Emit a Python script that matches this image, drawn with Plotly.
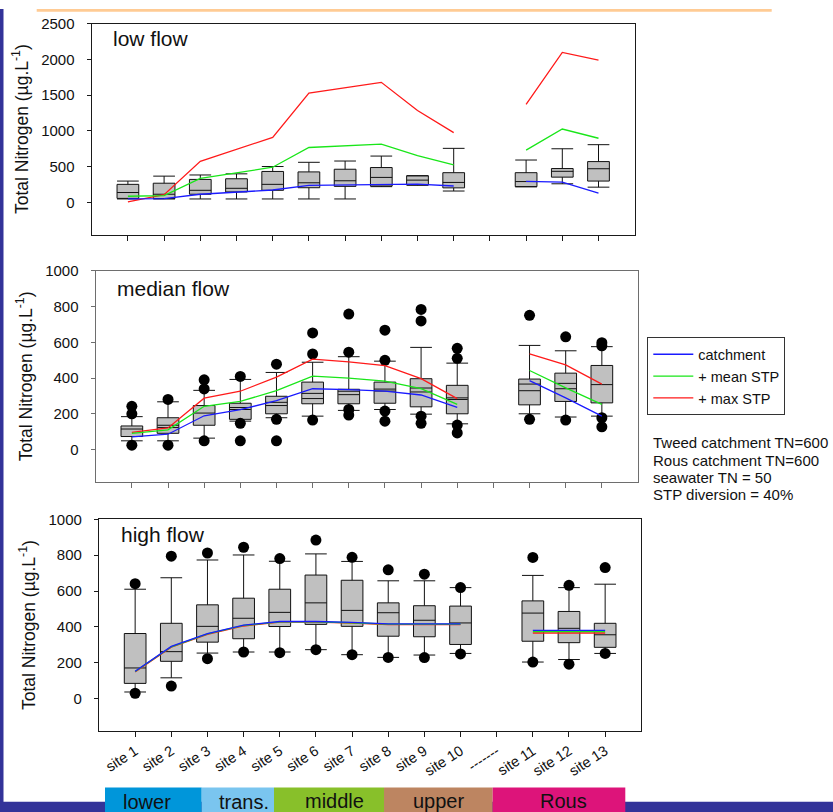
import plotly.graph_objects as go

FONT = "Liberation Sans, Arial, sans-serif"

# ---- categories -------------------------------------------------------------
SITES = ["site 1", "site 2", "site 3", "site 4", "site 5", "site 6", "site 7",
         "site 8", "site 9", "site 10", "site 11", "site 12", "site 13"]
GAP_LABEL = "-------"
AXIS_LABELS = SITES[:10] + [GAP_LABEL] + SITES[10:]

# ---- low flow ---------------------------------------------------------------
low_lo = [50, 50, 50, 50, 50, 50, 50, 222, 242, 161, 220, 262, 215]
low_q1 = [58, 55, 116, 148, 171, 207, 226, 231, 245, 205, 222, 355, 300]
low_med = [140, 116, 171, 199, 254, 276, 304, 351, 313, 281, 293, 436, 472]
low_q3 = [254, 270, 323, 332, 434, 428, 465, 489, 373, 417, 417, 475, 572]
low_hi = [300, 369, 385, 401, 503, 562, 580, 649, 375, 757, 594, 751, 808]
low_catch = [51, 55, 116, 148, 175, 240, 249, 258, 258, 231, 296, 286, 130]
low_mean_stp = [88, 97, 337, 417, 493, 769, 792, 815, 655, 525, 732, 1027, 898]
low_max_stp = [8, 110, 576, 742, 910, 1529, 1602, 1679, 1285, 977, 1370, 2096, 1989]
low_out_site = []
low_out_val = []
low_second = [None] * 13

# ---- median flow ------------------------------------------------------------
med_lo = [50, 50, 65, 160, 179, 188, 220, 225, 199, 145, 201, 183, 188]
med_q1 = [74, 92, 137, 170, 201, 257, 257, 260, 240, 201, 251, 270, 262]
med_med = [116, 137, 205, 236, 265, 315, 327, 339, 345, 290, 367, 371, 364]
med_q3 = [133, 179, 247, 260, 299, 378, 338, 378, 397, 360, 395, 428, 471]
med_hi = [185, 268, 332, 393, 432, 489, 520, 495, 572, 484, 583, 553, 576]
med_second = [None, 124, None, 225, 247, 286, 308, 328, 323, 281, 330, 341, None]
med_catch = [72, 87, 190, 224, 275, 341, 336, 328, 306, 237, 386, 290, 188]
med_mean_stp = [92, 111, 243, 270, 330, 411, 400, 384, 341, 254, 443, 346, 254]
med_max_stp = [97, 122, 288, 327, 406, 506, 491, 470, 397, 286, 536, 474, 367]
med_out_site = [1, 1, 1, 2, 2, 3, 3, 3, 4, 4, 4, 5, 5, 5, 6, 6, 6,
                7, 7, 7, 7, 8, 8, 8, 8, 9, 9, 9, 9, 10, 10, 10, 10,
                11, 11, 12, 12, 13, 13, 13, 13]
med_out_val = [243, 201, 26, 281, 26, 391, 340, 50, 410, 148, 50, 478, 170, 50,
               653, 535, 166, 758, 545, 225, 194, 668, 500, 216, 160,
               784, 720, 188, 148, 567, 511, 138, 94, 751, 170, 631, 166,
               598, 581, 179, 128]

# ---- high flow --------------------------------------------------------------
high_lo = [37, 116, 254, 260, 260, 273, 245, 230, 243, 252, 204, 218, 252]
high_q1 = [85, 208, 315, 334, 402, 414, 403, 348, 345, 302, 320, 312, 286]
high_med = [171, 262, 403, 448, 481, 534, 492, 479, 437, 422, 477, 392, 356]
high_q3 = [363, 420, 523, 560, 610, 689, 660, 534, 518, 516, 545, 486, 420]
high_hi = [610, 674, 773, 801, 766, 807, 765, 657, 657, 619, 687, 619, 638]
high_catch = [153, 291, 363, 410, 430, 430, 425, 417, 417, 417, 381, 381, 381]
high_mean_stp = [151, 289, 361, 408, 428, 428, 423, 415, 415, 415, 374, 374, 374]
high_max_stp = [149, 287, 358, 405, 426, 426, 421, 413, 413, 413, 366, 366, 366]
high_out_site = [1, 1, 2, 2, 3, 3, 4, 4, 5, 5, 6, 6, 7, 7, 8, 8, 9, 9,
                 10, 10, 11, 11, 12, 12, 13, 13]
high_out_val = [641, 30, 794, 70, 812, 223, 844, 260, 781, 256, 884, 273,
                788, 245, 718, 230, 694, 229, 619, 249, 787, 204, 632, 192,
                731, 252]
high_second = [None] * 13

# ---- axis ticks ---------------------------------------------------------------
low_ticks = [0, 500, 1000, 1500, 2000, 2500]
flow_ticks = [0, 200, 400, 600, 800, 1000]

# ---- scenario series --------------------------------------------------------
SERIES = [("+ max STP", "#ff1a1a", 3), ("+ mean STP", "#19e619", 2), ("catchment", "#1a1aff", 1)]

W, H = 833, 812


def px_x(p):
    return p / W


def px_y(p):
    return 1 - p / H


def with_gap(vals):
    return vals[:10] + [None] + vals[10:]


panels = [
    dict(title="low flow", lo=low_lo, q1=low_q1, med=low_med, q3=low_q3, hi=low_hi,
         second=low_second, out_site=low_out_site, out_val=low_out_val,
         lines=[low_max_stp, low_mean_stp, low_catch], ticks=low_ticks, top=2500,
         box=(91.7, 634.7, 14.7, 228.3), frame="#1a1a1a", title_y=29.5),
    dict(title="median flow", lo=med_lo, q1=med_q1, med=med_med, q3=med_q3, hi=med_hi,
         second=med_second, out_site=med_out_site, out_val=med_out_val,
         lines=[med_max_stp, med_mean_stp, med_catch], ticks=flow_ticks, top=1000,
         box=(95.7, 638.0, 264.7, 478.3), frame="#6e6e6e", title_y=282.5),
    dict(title="high flow", lo=high_lo, q1=high_q1, med=high_med, q3=high_q3, hi=high_hi,
         second=high_second, out_site=high_out_site, out_val=high_out_val,
         lines=[high_max_stp, high_mean_stp, high_catch], ticks=flow_ticks, top=1000,
         box=(99.0, 641.3, 516.0, 730.0), frame="#1a1a1a", title_y=531.5),
]

fig = go.Figure()
layout_axes = {}
annotations = []

for i, p in enumerate(panels, start=1):
    xa, ya = f"x{i}", f"y{i}"
    # box-and-whisker per site
    fig.add_trace(go.Box(
        x=SITES, q1=p["q1"], median=p["med"], q3=p["q3"],
        lowerfence=p["lo"], upperfence=p["hi"],
        width=0.6, whiskerwidth=1, boxpoints=False,
        fillcolor="#c0c0c0", line=dict(color="#111111", width=1),
        showlegend=False, hoverinfo="skip", xaxis=xa, yaxis=ya))
    # second inner line of the box (mean)
    sx = [s for s, v in zip(SITES, p["second"]) if v is not None]
    sy = [v for v in p["second"] if v is not None]
    if sx:
        fig.add_trace(go.Scatter(
            x=sx, y=sy, mode="markers",
            marker=dict(symbol="line-ew", size=15, line=dict(width=1, color="#111111")),
            showlegend=False, hoverinfo="skip", xaxis=xa, yaxis=ya))
    # outliers
    if p["out_site"]:
        fig.add_trace(go.Scatter(
            x=[SITES[s - 1] for s in p["out_site"]], y=p["out_val"], mode="markers",
            marker=dict(color="black", size=11),
            showlegend=False, hoverinfo="skip", xaxis=xa, yaxis=ya))
    # scenario lines
    for (name, color, rank), vals in zip(SERIES, p["lines"]):
        fig.add_trace(go.Scatter(
            x=AXIS_LABELS, y=with_gap(vals), mode="lines", connectgaps=False,
            line=dict(color=color, width=1.3), name=name,
            legendrank=rank, showlegend=(i == 1), hoverinfo="skip",
            xaxis=xa, yaxis=ya))

    x0, x1, top, bot = p["box"]
    key = "" if i == 1 else str(i)
    layout_axes[f"xaxis{key}"] = dict(
        domain=[px_x(x0), px_x(x1)], anchor=ya, type="category",
        categoryorder="array", categoryarray=AXIS_LABELS, range=[-1, 14],
        showline=True, mirror=True, linecolor=p["frame"], linewidth=1.3,
        ticks="outside", ticklen=5, tickcolor=p["frame"], tickwidth=1,
        showgrid=False, zeroline=False, showticklabels=(i == 3),
        tickangle=-33, tickfont=dict(size=14.5, color="#111"))
    layout_axes[f"yaxis{key}"] = dict(
        domain=[px_y(bot), px_y(top)], anchor=xa,
        range=[-0.18 * p["top"], p["top"]], tickvals=p["ticks"],
        showline=True, mirror=True, linecolor=p["frame"], linewidth=1.3,
        ticks="outside", ticklen=4, tickcolor=p["frame"], tickwidth=1,
        ticklabelstandoff=9,
        showgrid=False, zeroline=False, tickfont=dict(size=15, color="#111"),
        title=dict(text="Total Nitrogen (µg.L<sup>-1</sup>)",
                   font=dict(size=17.5, color="#111"), standoff=8))
    annotations.append(dict(
        text=p["title"], x=px_x(x0 + 19.5), y=px_y(p["title_y"]), xref="paper", yref="paper",
        xanchor="left", yanchor="middle", showarrow=False,
        font=dict(size=21, color="#111")))

# model assumptions
notes = ["Tweed catchment TN=600", "Rous catchment TN=600",
         "seawater TN = 50", "STP diversion = 40%"]
for txt, yc in zip(notes, [438, 456.7, 473.7, 491]):
    annotations.append(dict(
        text=txt, x=px_x(651), y=px_y(yc), xref="paper", yref="paper",
        xanchor="left", yanchor="middle", showarrow=False,
        font=dict(size=15, color="#111")))

# estuary reach bands along the bottom
reaches = [("lower", "#0096da", 105, 201.7, 146.7, 802.0),
           ("trans.", "#7ac5ef", 201.7, 274, 244, 802.0),
           ("middle", "#88c02a", 274, 384, 334.8, 801.2),
           ("upper", "#bd8561", 384, 492.7, 438.7, 801),
           ("Rous", "#dd147a", 492.7, 625.3, 563.8, 801)]

shapes = [
    dict(type="rect", xref="paper", yref="paper", x0=0, x1=px_x(3.5), y0=0, y1=1,
         fillcolor="#333399", line=dict(width=0), layer="above"),
    dict(type="rect", xref="paper", yref="paper", x0=px_x(36.7), x1=px_x(771.7),
         y0=px_y(2.7), y1=1, fillcolor="#ffcb94", line=dict(width=0), layer="above"),
    dict(type="rect", xref="paper", yref="paper", x0=0, x1=1, y0=0, y1=px_y(801.7),
         fillcolor="#333399", line=dict(width=0), layer="above"),
]
for name, col, rx0, rx1, tx, ty in reaches:
    shapes.append(dict(type="rect", xref="paper", yref="paper", x0=px_x(rx0), x1=px_x(rx1),
                       y0=0, y1=px_y(787.3), fillcolor=col, line=dict(width=0), layer="above"))
    annotations.append(dict(text=name, x=px_x(tx), y=px_y(ty), xref="paper", yref="paper",
                            xanchor="center", yanchor="middle", showarrow=False,
                            font=dict(size=20, color="#111")))

fig.update_layout(
    width=W, height=H, margin=dict(l=0, r=0, t=0, b=0),
    paper_bgcolor="white", plot_bgcolor="white",
    font=dict(family=FONT, color="#111"),
    showlegend=True,
    legend=dict(x=px_x(647.3), y=px_y(332.0), xanchor="left", yanchor="top",
                bordercolor="#333", borderwidth=1, bgcolor="white", itemwidth=40,
                font=dict(size=14.5, color="#111"), tracegroupgap=0),
    annotations=annotations, shapes=shapes,
    **layout_axes)

fig.write_html("out.html")
